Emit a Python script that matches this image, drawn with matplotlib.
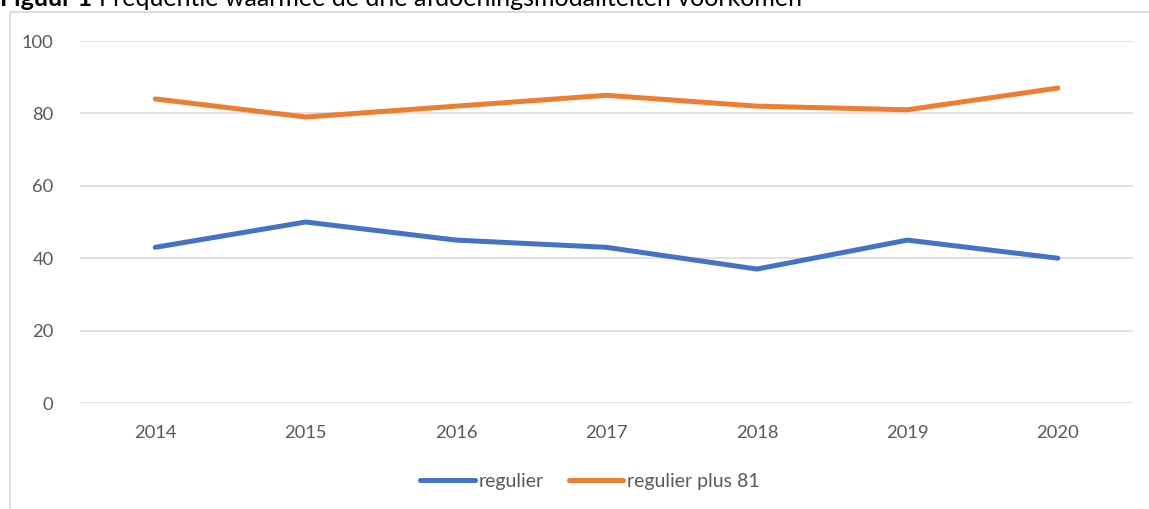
import matplotlib
matplotlib.use("Agg")
import matplotlib.pyplot as plt
from matplotlib.patches import Rectangle

# data
years = ["2014", "2015", "2016", "2017", "2018", "2019", "2020"]
regulier = [43, 50, 45, 43, 37, 45, 40]
regulier_plus_81 = [84, 79, 82, 85, 82, 81, 87]
y_ticks = [0, 20, 40, 60, 80, 100]

W, H = 1149, 509
plt.rcParams['font.family'] = ['Lato', 'DejaVu Sans']

fig = plt.figure(figsize=(W / 100, H / 100), dpi=100)
ax = fig.add_axes([80 / W, 1 - 403 / H, (1133 - 80) / W, (403 - 41) / H])

x = list(range(len(years)))
ax.plot(x, regulier, color='#4472C4', lw=3.6, solid_capstyle='round',
        solid_joinstyle='round', label='regulier', zorder=3)
ax.plot(x, regulier_plus_81, color='#ED7D31', lw=3.6, solid_capstyle='round',
        solid_joinstyle='round', label='regulier plus 81', zorder=3)

ax.set_xlim(-0.5, len(years) - 0.5)
ax.set_ylim(0, 100)
ax.set_yticks(y_ticks)
ax.set_xticks(x)
ax.set_xticklabels(years)
ax.grid(axis='y', color='#D9D9D9', lw=1.1)
ax.set_axisbelow(True)
for s in ax.spines.values():
    s.set_visible(False)
ax.tick_params(length=0, labelsize=13.2, labelcolor='#595959')
ax.tick_params(axis='y', pad=19)
ax.tick_params(axis='x', pad=16)

leg = ax.legend(loc='center', bbox_to_anchor=(590 / W, 1 - 481 / H),
                bbox_transform=fig.transFigure, ncol=2, frameon=False,
                fontsize=14, handlelength=2.8, handletextpad=0.2,
                columnspacing=1.3)
for t in leg.get_texts():
    t.set_color('#595959')

# outer chart frame (only left and top edges visible in the crop)
fig.patches.append(Rectangle((10 / W, -0.1), 1.2, 1 - 12 / H + 0.1,
                             transform=fig.transFigure, fill=False,
                             edgecolor='#D9D9D9', lw=1.3))

# caption, cut off at the top of the image as in the reference
fig.text(0 / W, 1 - 6 / H, 'Figuur 1', fontsize=18, fontweight='bold',
         va='baseline', ha='left', color='black')
fig.text(99 / W, 1 - 6 / H,
         'Frequentie waarmee de drie afdoeningsmodaliteiten voorkomen',
         fontsize=18, va='baseline', ha='left', color='black')

fig.savefig('out.png', dpi=100, facecolor='white')
